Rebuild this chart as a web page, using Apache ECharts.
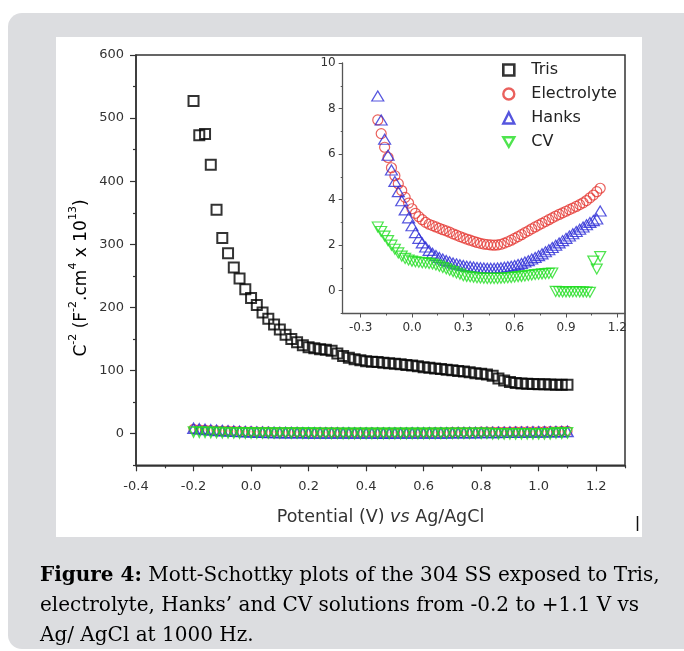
<!DOCTYPE html>
<html><head><meta charset="utf-8">
<script src="https://cdn.jsdelivr.net/npm/echarts@6/dist/echarts.min.js"></script>
<style>html,body{margin:0;padding:0;background:#fff}#c{width:684px;height:651px}</style>
</head><body><div id="c"></div>
<script>
// Potential (V vs Ag/AgCl)
const potential = [
  -0.2,-0.18,-0.16,-0.14,-0.12,-0.1,-0.08,-0.06,-0.04,-0.02,
  0,0.02,0.04,0.06,0.08,0.1,0.12,0.14,0.16,0.18,
  0.2,0.22,0.24,0.26,0.28,0.3,0.32,0.34,0.36,0.38,
  0.4,0.42,0.44,0.46,0.48,0.5,0.52,0.54,0.56,0.58,
  0.6,0.62,0.64,0.66,0.68,0.7,0.72,0.74,0.76,0.78,
  0.8,0.82,0.84,0.86,0.88,0.9,0.92,0.94,0.96,0.98,
  1.0,1.02,1.04,1.06,1.08,1.1
];
const tris = [
  527,473,475,426,355,310,286,263.5,246,229,
  215,204,192,182,173,165,157,150,145,140,
  137,135.5,134,133,131.5,127,123,120.5,118,116.5,
  115,114,113.5,112.5,111.8,111,110,109,108,107,
  105.5,104.5,103.5,102.5,101.5,100.5,99.5,98.5,97.5,96,
  95,94,92,87.5,84.5,82,80.5,79.5,79,78.7,
  78.5,78.3,78,77.8,77.6,77.5
];
const electrolyte = [
  7.5,6.9,6.3,5.85,5.4,5.05,4.7,4.4,4.1,3.85,
  3.6,3.4,3.25,3.12,3.0,2.92,2.86,2.8,2.74,2.68,
  2.63,2.57,2.5,2.44,2.38,2.32,2.27,2.22,2.17,2.12,
  2.08,2.05,2.03,2.01,2.0,2.01,2.04,2.09,2.15,2.22,
  2.3,2.38,2.46,2.55,2.63,2.72,2.8,2.88,2.96,3.04,
  3.12,3.2,3.28,3.35,3.42,3.49,3.56,3.63,3.7,3.78,
  3.86,3.96,4.08,4.2,4.35,4.5
];
const hanks = [
  8.55,7.5,6.65,5.95,5.3,4.8,4.35,3.95,3.55,3.2,
  2.85,2.55,2.3,2.1,1.92,1.77,1.65,1.55,1.46,1.39,
  1.33,1.27,1.22,1.18,1.14,1.11,1.08,1.06,1.04,1.02,
  1.01,1.0,0.99,0.99,0.99,1.0,1.01,1.03,1.05,1.08,
  1.11,1.15,1.2,1.26,1.32,1.39,1.46,1.54,1.62,1.71,
  1.8,1.9,2.0,2.1,2.2,2.3,2.4,2.5,2.6,2.7,
  2.8,2.9,3.0,3.08,3.15,3.5
];
const cv = [
  2.8,2.6,2.4,2.2,2.0,1.82,1.66,1.52,1.42,1.35,
  1.3,1.27,1.25,1.23,1.22,1.2,1.17,1.13,1.08,1.02,
  0.96,0.9,0.84,0.78,0.73,0.66,0.63,0.61,0.59,0.57,
  0.56,0.55,0.54,0.54,0.54,0.54,0.55,0.56,0.57,0.58,
  0.6,0.62,0.63,0.65,0.67,0.69,0.71,0.72,0.74,0.75,
  0.76,0.78,-0.03,-0.04,-0.05,-0.05,-0.05,-0.04,-0.04,-0.05,
  -0.05,-0.06,-0.07,1.3,0.95,1.5
];
// Tick positions / labels
const mainXLabels = [-0.4,-0.2,0,0.2,0.4,0.6,0.8,1.0,1.2];
const mainXMinor = [-0.3,-0.1,0.1,0.3,0.5,0.7,0.9,1.1,1.3];
const mainYLabels = [0,100,200,300,400,500,600];
const mainYMinor = [-50,50,150,250,350,450,550];
const insetXLabels = [-0.3,0,0.3,0.6,0.9,1.2];
const insetXMinor = [-0.15,0.15,0.45,0.75,1.05];
const insetYLabels = [0,2,4,6,8,10];
const insetYMinor = [-1,1,3,5,7,9];

const pairs = (ys) => potential.map((x, i) => [x, ys[i]]);
const FONT = 'DejaVu Sans';
const AX = '#333';
const RED = '#e53935', BLUE = '#2a2ad6', GREEN = '#22dd22';

function majorAxis(o) {
  return Object.assign({
    type: 'value', splitLine: {show: false},
    axisLine: {show: true, onZero: false, lineStyle: {color: AX, width: 1.5}},
    axisTick: {show: true, inside: false, length: 6, lineStyle: {color: AX, width: 1.2}},
    axisLabel: {color: '#333', fontFamily: FONT, fontSize: 13}
  }, o);
}
function minorAxis(o) {
  return Object.assign({
    type: 'value', splitLine: {show: false},
    axisLine: {show: false, onZero: false},
    axisLabel: {show: false},
    axisTick: {show: true, inside: false, length: 3, lineStyle: {color: AX, width: 1.2}}
  }, o);
}

const chart = echarts.init(document.getElementById('c'), null, {renderer: 'canvas'});
chart.setOption({
  animation: false,
  backgroundColor: '#fff',
  graphic: [
    {type: 'rect', z: -10, shape: {x: 8, y: 13, width: 700, height: 636, r: 14}, style: {fill: '#dcdde0'}},
    {type: 'rect', z: -9, shape: {x: 56, y: 37, width: 586, height: 500}, style: {fill: '#fff'}},
    {type: 'line', shape: {x1: 637.5, y1: 516, x2: 637.5, y2: 531}, style: {stroke: '#111', lineWidth: 1.5}},
    {type: 'text', x: 79, y: 278, rotation: Math.PI / 2,
      style: {
        text: '{n|C}{s|-2}{n| (F}{s|-2}{n|.cm}{s|4}{n| x 10}{s|13}{n|)}',
        align: 'center', verticalAlign: 'middle',
        rich: {
          n: {fontFamily: FONT, fontSize: 17, color: '#333', lineHeight: 23, verticalAlign: 'bottom'},
          s: {fontFamily: FONT, fontSize: 11, color: '#333', lineHeight: 11, verticalAlign: 'top'}
        }
      }},
    {type: 'text', x: 40, y: 561,
      style: {
        text: '{b|Figure 4:}{r| Mott-Schottky plots of the 304 SS exposed to Tris,}\n{r|electrolyte, Hanks\u2019 and CV solutions from -0.2 to +1.1 V vs}\n{r|Ag/ AgCl at 1000 Hz.}',
        rich: {
          b: {fontFamily: 'DejaVu Serif', fontSize: 20, fontWeight: 'bold', color: '#333', lineHeight: 30},
          r: {fontFamily: 'DejaVu Serif', fontSize: 20, color: '#333', lineHeight: 30}
        }
      }}
  ],
  grid: [
    {left: 136, top: 55, right: 59, bottom: 185.7, containLabel: false, outerBoundsMode: 'none',
      show: true, borderColor: AX, borderWidth: 1.5, backgroundColor: 'transparent'},
    {left: 342.7, top: 63, right: 59, bottom: 337.5, containLabel: false, outerBoundsMode: 'none', show: false}
  ],
  xAxis: [
    majorAxis({gridIndex: 0, position: 'bottom', min: -0.4, max: 1.3,
      name: 'Potential (V) {i|vs} Ag/AgCl', nameLocation: 'middle', nameGap: 43,
      nameTextStyle: {fontFamily: FONT, fontSize: 17.5, color: '#333',
        rich: {i: {fontFamily: FONT, fontSize: 17.5, color: '#333', fontStyle: 'italic'}}},
      axisTick: {show: true, length: 6, customValues: mainXLabels, lineStyle: {color: AX, width: 1.2}},
      axisLabel: {color: '#333', fontFamily: FONT, fontSize: 13, margin: 15, customValues: mainXLabels,
        formatter: v => v.toFixed(1)}}),
    minorAxis({gridIndex: 0, position: 'bottom', min: -0.4, max: 1.3,
      axisTick: {show: true, length: 3, customValues: mainXMinor, lineStyle: {color: AX, width: 1.2}}}),
    majorAxis({gridIndex: 1, position: 'bottom', min: -0.405, max: 1.245,
      axisLine: {show: true, onZero: false, lineStyle: {color: '#555', width: 1.3}},
      axisTick: {show: true, length: 4, customValues: insetXLabels, lineStyle: {color: '#555', width: 1}},
      axisLabel: {color: '#333', fontFamily: FONT, fontSize: 12, margin: 8, customValues: insetXLabels,
        formatter: v => v.toFixed(1)}}),
    minorAxis({gridIndex: 1, position: 'bottom', min: -0.405, max: 1.245,
      axisTick: {show: true, length: 2, customValues: insetXMinor, lineStyle: {color: '#555', width: 1}}})
  ],
  yAxis: [
    majorAxis({gridIndex: 0, position: 'left', min: -50, max: 600,
      axisTick: {show: true, length: 6, customValues: mainYLabels, lineStyle: {color: AX, width: 1.2}},
      axisLabel: {color: '#333', fontFamily: FONT, fontSize: 13, margin: 12, customValues: mainYLabels}}),
    minorAxis({gridIndex: 0, position: 'left', min: -50, max: 600,
      axisTick: {show: true, length: 3, customValues: mainYMinor, lineStyle: {color: AX, width: 1.2}}}),
    majorAxis({gridIndex: 1, position: 'left', min: -1, max: 10,
      axisLine: {show: true, onZero: false, lineStyle: {color: '#555', width: 1.3}},
      axisTick: {show: true, length: 4, customValues: insetYLabels, lineStyle: {color: '#555', width: 1}},
      axisLabel: {color: '#333', fontFamily: FONT, fontSize: 12, margin: 7, customValues: insetYLabels}}),
    minorAxis({gridIndex: 1, position: 'left', min: -1, max: 10,
      axisTick: {show: true, length: 2, customValues: insetYMinor, lineStyle: {color: '#555', width: 1}}})
  ],
  legend: {
    orient: 'vertical', left: 497, top: 57, itemWidth: 11, itemHeight: 11, itemGap: 8,
    textStyle: {fontFamily: FONT, fontSize: 16, color: '#222', lineHeight: 16, padding: [0, 0, 0, 12]},
    selectedMode: false,
    data: [
      {name: 'Tris', icon: 'rect', itemStyle: {color: 'transparent', borderColor: '#000', borderWidth: 2.6}},
      {name: 'Electrolyte', icon: 'circle', itemStyle: {color: 'transparent', borderColor: RED, borderWidth: 2.4}},
      {name: 'Hanks', icon: 'triangle', itemStyle: {color: 'transparent', borderColor: BLUE, borderWidth: 2.4}},
      {name: 'CV', icon: 'path://M0,0L10,0L5,8.66Z', itemStyle: {color: 'transparent', borderColor: GREEN, borderWidth: 2.4}}
    ]
  },
  series: [
    {name: 'Tris', type: 'scatter', xAxisIndex: 0, yAxisIndex: 0, data: pairs(tris),
      symbol: 'rect', symbolSize: 10, itemStyle: {color: 'transparent', borderColor: '#000', borderWidth: 2}},
    {name: 'Electrolyte', type: 'scatter', xAxisIndex: 0, yAxisIndex: 0, data: pairs(electrolyte),
      symbol: 'circle', symbolSize: 9, itemStyle: {color: 'transparent', borderColor: RED, borderWidth: 1.3}},
    {name: 'Hanks', type: 'scatter', xAxisIndex: 0, yAxisIndex: 0, data: pairs(hanks),
      symbol: 'triangle', symbolSize: [11, 10], itemStyle: {color: 'transparent', borderColor: BLUE, borderWidth: 1.6}},
    {name: 'CV', type: 'scatter', xAxisIndex: 0, yAxisIndex: 0, data: pairs(cv),
      symbol: 'triangle', symbolRotate: 180, symbolSize: [10, 10], itemStyle: {color: 'transparent', borderColor: GREEN, borderWidth: 1.6}},
    {name: 'Electrolyte', type: 'scatter', xAxisIndex: 2, yAxisIndex: 2, data: pairs(electrolyte),
      symbol: 'circle', symbolSize: 10, itemStyle: {color: 'transparent', borderColor: RED, borderWidth: 1.2}},
    {name: 'Hanks', type: 'scatter', xAxisIndex: 2, yAxisIndex: 2, data: pairs(hanks),
      symbol: 'triangle', symbolSize: [12, 10], itemStyle: {color: 'transparent', borderColor: BLUE, borderWidth: 1.2}},
    {name: 'CV', type: 'scatter', xAxisIndex: 2, yAxisIndex: 2, data: pairs(cv),
      symbol: 'triangle', symbolRotate: 180, symbolSize: [11, 10], itemStyle: {color: 'transparent', borderColor: GREEN, borderWidth: 1.2}}
  ]
});
</script>
</body></html>
